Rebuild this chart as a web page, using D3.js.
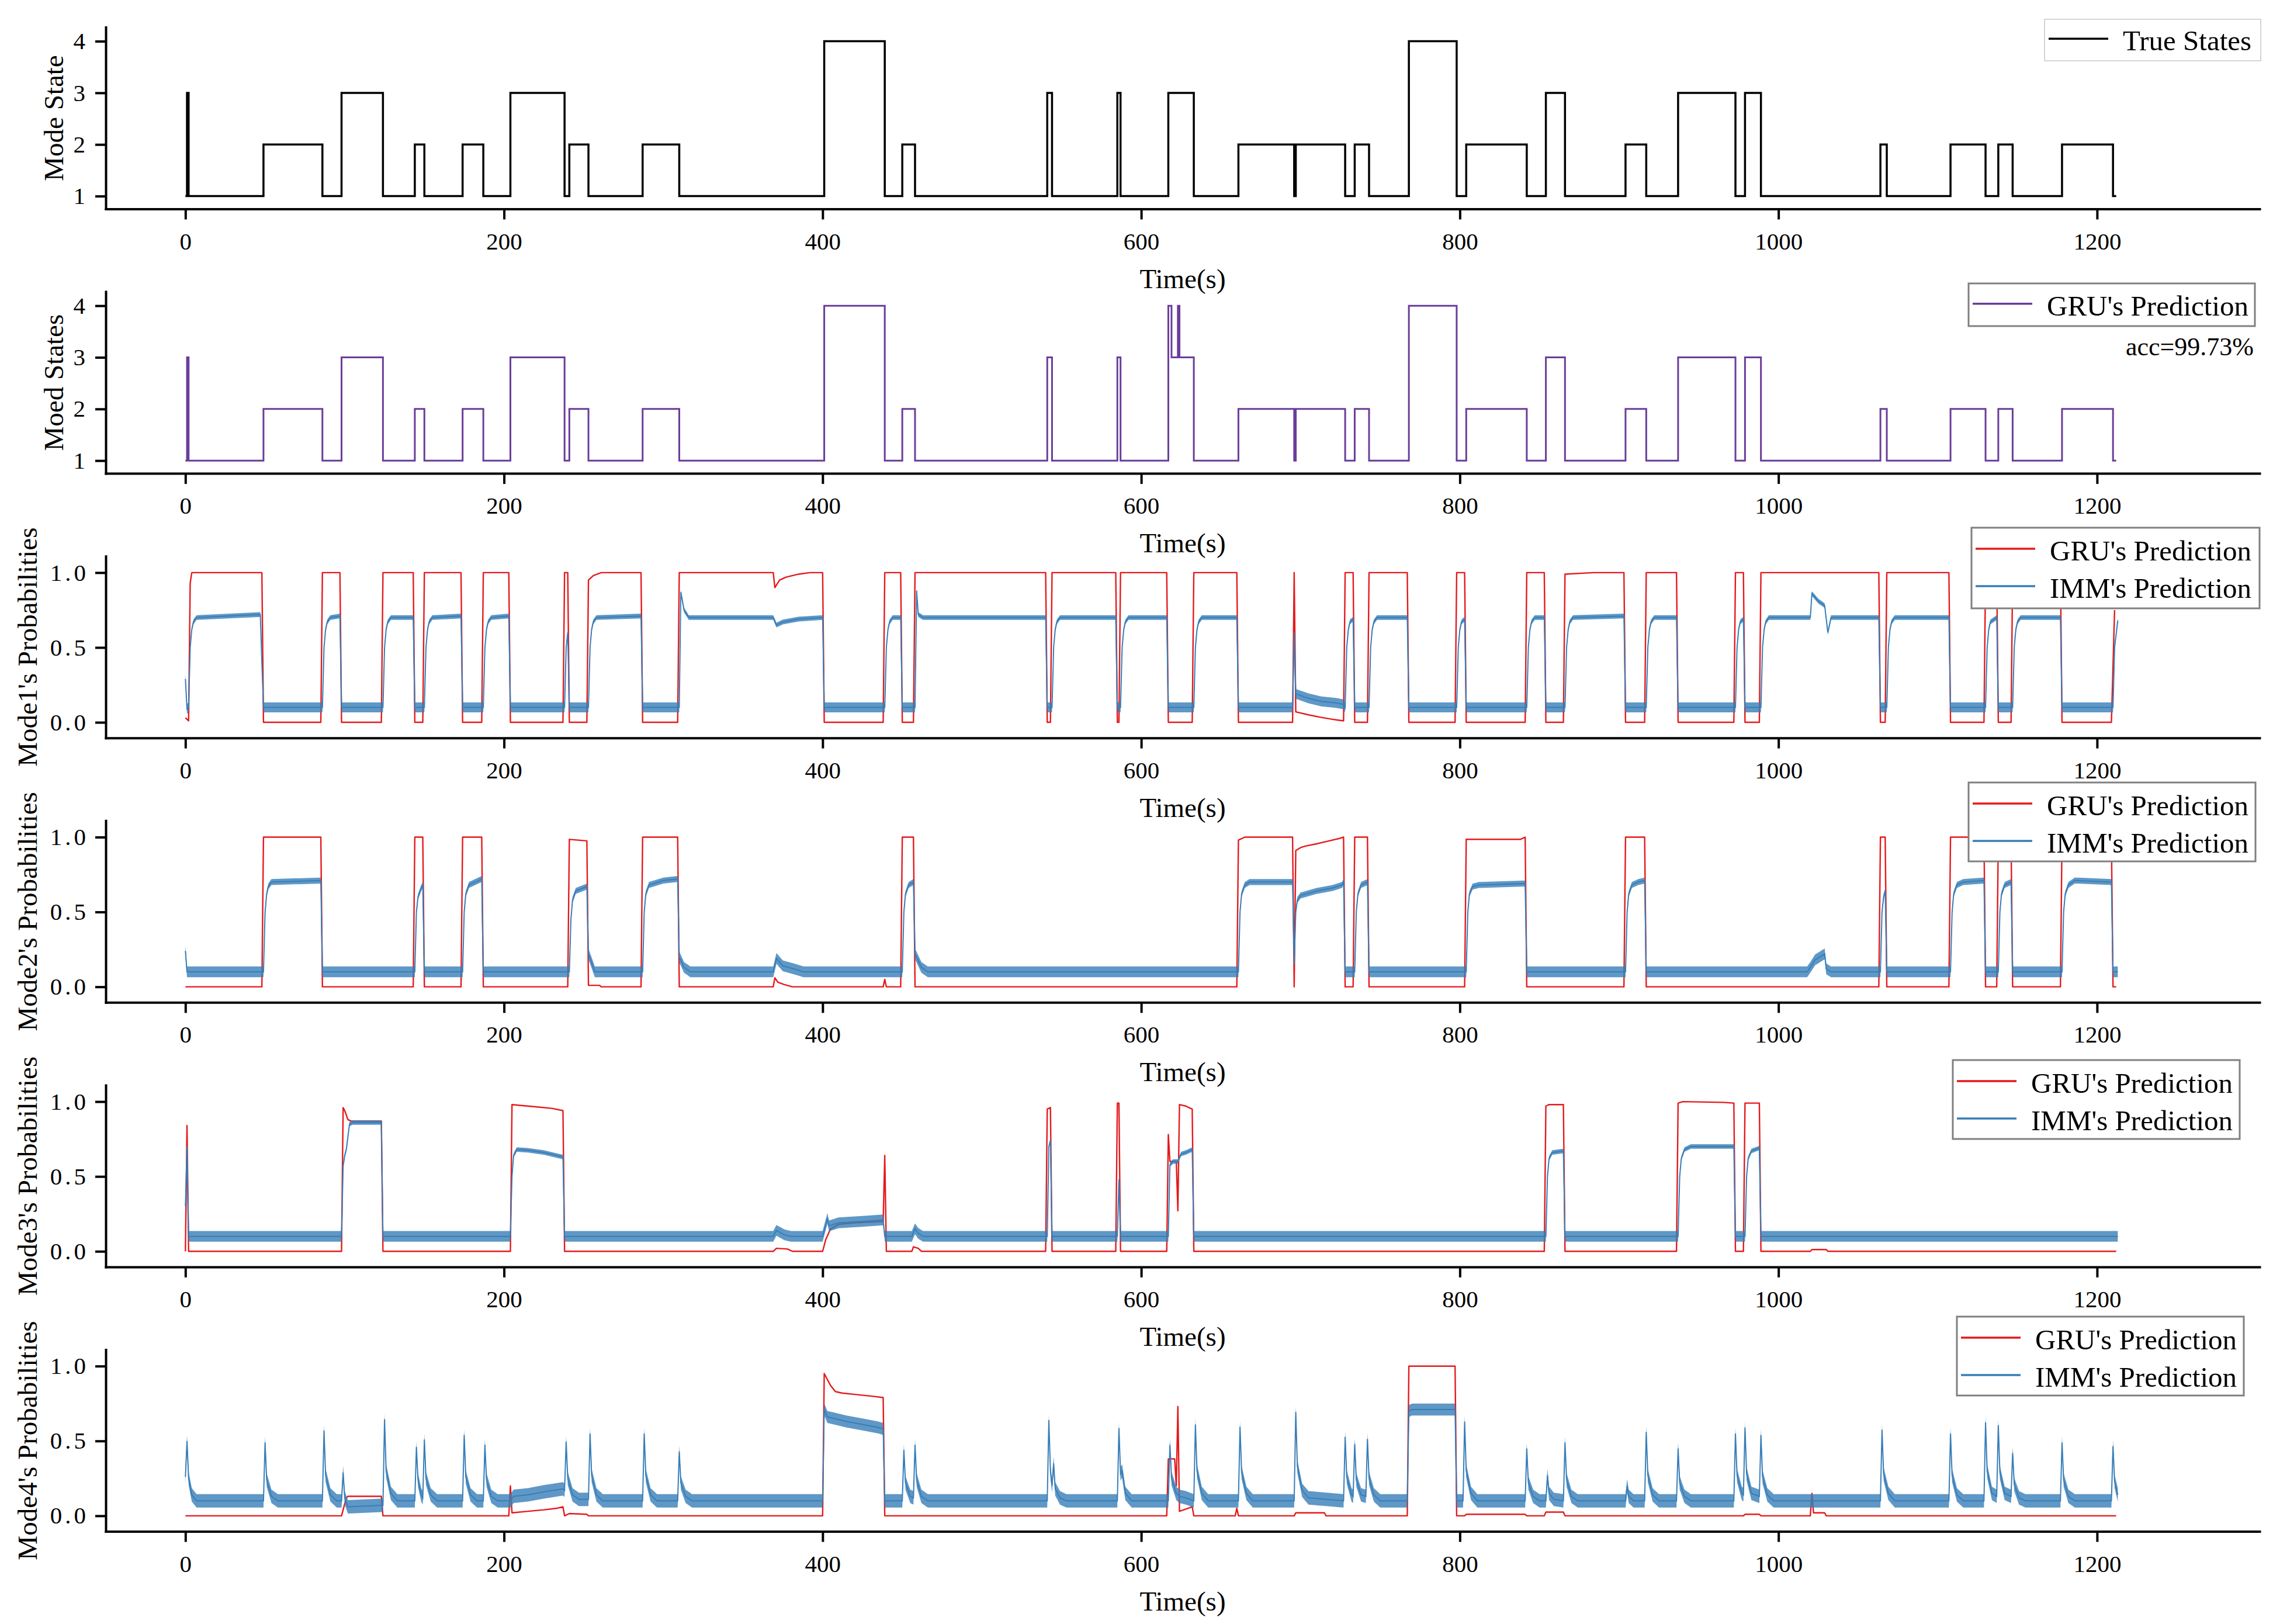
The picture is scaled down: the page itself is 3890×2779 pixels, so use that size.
<!DOCTYPE html>
<html>
<head>
<meta charset="utf-8">
<script src="https://cdn.jsdelivr.net/npm/d3@7"></script>
<style>
  body { margin: 0; background: #fff; }
  text { font-family: "Liberation Serif", "Times New Roman", serif; fill: #000; }
  .axis path.domain { stroke: #000; stroke-width: 4; stroke-linecap: square; }
  .axis .tick line { stroke: #000; stroke-width: 4; }
  .axis text { font-size: 41px; font-family: "Liberation Serif", "Times New Roman", serif; }
  .prob-axis text { letter-spacing: 5px; }
</style>
</head>
<body>
<svg id="chart" width="3890" height="2779"></svg>
<script>
/**
 * Mode states and mode probabilities of the GRU and IMM estimators,
 * six stacked panels sharing one time axis.
 */

var timeTicks = [0, 200, 400, 600, 800, 1000, 1200];
var stateTicks = [1, 2, 3, 4];
var probTicks = [0, 0.5, 1];

var yLabels = ['Mode State', 'Moed States', "Mode1's Probabilities",
  "Mode2's Probabilities", "Mode3's Probabilities", "Mode4's Probabilities"];
var accText = 'acc=99.73%';

// state change points [t, state]
var trueStates = [
  [0, 1], [1, 3], [2, 1], [49, 2], [86, 1], [98, 3], [124, 1], [144, 2], [150, 1],
  [174, 2], [187, 1], [204, 3], [238, 1], [241, 2], [253, 1], [287, 2], [310, 1],
  [401, 4], [439, 1], [450, 2], [458, 1], [541, 3], [544, 1], [585, 3], [587, 1],
  [617, 3], [633, 1], [661, 2], [696, 1], [697, 2], [728, 1], [734, 2], [743, 1],
  [768, 4], [798, 1], [804, 2], [842, 1], [854, 3], [866, 1], [904, 2], [917, 1],
  [937, 3], [973, 1], [979, 3], [989, 1], [1064, 2], [1068, 1], [1108, 2], [1130, 1],
  [1138, 2], [1147, 1], [1178, 2], [1210, 1], [1212, 1]
];

var gruStates = [
  [0, 1], [1, 3], [2, 1], [49, 2], [86, 1], [98, 3], [124, 1], [144, 2], [150, 1],
  [174, 2], [187, 1], [204, 3], [238, 1], [241, 2], [253, 1], [287, 2], [310, 1],
  [401, 4], [439, 1], [450, 2], [458, 1], [541, 3], [544, 1], [585, 3], [587, 1],
  [617, 4], [619, 3], [623, 4], [624, 3], [633, 1], [661, 2], [696, 1], [697, 2],
  [728, 1], [734, 2], [743, 1], [768, 4], [798, 1], [804, 2], [842, 1], [854, 3],
  [866, 1], [904, 2], [917, 1], [937, 3], [973, 1], [979, 3], [989, 1], [1064, 2],
  [1068, 1], [1108, 2], [1130, 1], [1138, 2], [1147, 1], [1178, 2], [1210, 1], [1212, 1]
];

var gruMode1 = [
  [0, 0.03], [2, 0.01], [3, 0.93], [4, 1], [48, 1], [49, 0],
  [85, 0], [86, 1], [97, 1], [98, 0], [123, 0], [124, 1], [143, 1], [144, 0],
  [149, 0], [150, 1], [173, 1], [174, 0], [186, 0], [187, 1], [203, 1], [204, 0],
  [237, 0], [238, 1], [240, 1], [241, 0],
  [252, 0], [253, 0.95], [256, 0.98], [261, 1], [286, 1], [287, 0],
  [309, 0], [310, 1], [369, 1], [370, 0.9], [373, 0.95], [377, 0.97], [385, 0.99],
  [392, 1], [400, 1], [401, 0],
  [438, 0], [439, 1], [449, 1], [450, 0], [457, 0], [458, 1], [540, 1], [541, 0],
  [543, 0], [544, 1], [584, 1], [585, 0], [586, 0], [587, 1], [616, 1], [617, 0],
  [632, 0], [633, 1], [660, 1], [661, 0],
  [695, 0], [696, 1], [697, 0.07], [705, 0.05], [712, 0.035], [720, 0.02], [727, 0.01],
  [728, 1], [733, 1], [734, 0], [742, 0], [743, 1], [767, 1], [768, 0],
  [797, 0], [798, 1], [803, 1], [804, 0], [841, 0], [842, 1], [853, 1], [854, 0],
  [865, 0], [866, 0.99], [884, 1], [903, 1], [904, 0], [916, 0], [917, 1], [936, 1], [937, 0],
  [972, 0], [973, 1], [978, 1], [979, 0], [988, 0], [989, 1], [1063, 1], [1064, 0],
  [1067, 0], [1068, 1], [1107, 1], [1108, 0], [1129, 0], [1130, 1], [1137, 1], [1138, 0],
  [1146, 0], [1147, 1], [1177, 1], [1178, 0], [1209, 0], [1211, 0.75]
];

var immMode1 = [
  [0, 0.29], [1, 0.09], [2, 0.1], [3, 0.5], [4, 0.62], [5, 0.67], [7, 0.7], [47, 0.72], [48, 0.4], [49, 0.1],
  [86, 0.1], [87, 0.5], [88, 0.62], [89, 0.67], [91, 0.7], [97, 0.71], [98, 0.1],
  [124, 0.1], [125, 0.5], [126, 0.62], [127, 0.67], [129, 0.7], [143, 0.7], [144, 0.1],
  [150, 0.1], [151, 0.5], [152, 0.62], [153, 0.67], [155, 0.7], [173, 0.71], [174, 0.1],
  [187, 0.1], [188, 0.5], [189, 0.62], [190, 0.67], [192, 0.7], [203, 0.71], [204, 0.1],
  [238, 0.1], [239, 0.5], [240, 0.6], [241, 0.1],
  [253, 0.1], [254, 0.5], [255, 0.62], [256, 0.67], [258, 0.7], [286, 0.71], [287, 0.1],
  [310, 0.1], [311, 0.87], [313, 0.75], [316, 0.7], [369, 0.7], [371, 0.65], [375, 0.67],
  [385, 0.69], [400, 0.7], [401, 0.1],
  [439, 0.1], [440, 0.5], [441, 0.62], [442, 0.67], [444, 0.7], [449, 0.7], [450, 0.1],
  [458, 0.1], [459, 0.88], [460, 0.72], [463, 0.7], [540, 0.7], [541, 0.1],
  [544, 0.1], [545, 0.5], [546, 0.62], [547, 0.67], [549, 0.7], [584, 0.7], [585, 0.1],
  [587, 0.1], [588, 0.5], [589, 0.62], [590, 0.67], [592, 0.7], [616, 0.7], [617, 0.1],
  [633, 0.1], [634, 0.5], [635, 0.62], [636, 0.67], [638, 0.7], [660, 0.7], [661, 0.1],
  [695, 0.1], [696, 0.6], [697, 0.19], [705, 0.16], [713, 0.14], [722, 0.13], [727, 0.12],
  [728, 0.1], [729, 0.5], [730, 0.62], [731, 0.67], [733, 0.69], [734, 0.1],
  [743, 0.1], [744, 0.5], [745, 0.62], [746, 0.67], [748, 0.7], [767, 0.7], [768, 0.1],
  [798, 0.1], [799, 0.5], [800, 0.62], [801, 0.67], [803, 0.69], [804, 0.1],
  [842, 0.1], [843, 0.5], [844, 0.62], [845, 0.67], [847, 0.7], [853, 0.7], [854, 0.1],
  [866, 0.1], [867, 0.5], [868, 0.62], [869, 0.67], [871, 0.7], [903, 0.71], [904, 0.1],
  [917, 0.1], [918, 0.5], [919, 0.62], [920, 0.67], [922, 0.7], [936, 0.7], [937, 0.1],
  [973, 0.1], [974, 0.5], [975, 0.62], [976, 0.67], [978, 0.69], [979, 0.1],
  [989, 0.1], [990, 0.5], [991, 0.62], [992, 0.67], [994, 0.7], [1020, 0.7], [1021, 0.86],
  [1025, 0.81], [1029, 0.78], [1031, 0.6], [1033, 0.7], [1063, 0.7], [1064, 0.1],
  [1068, 0.1], [1069, 0.5], [1070, 0.62], [1071, 0.67], [1073, 0.7], [1107, 0.7], [1108, 0.1],
  [1130, 0.1], [1131, 0.5], [1132, 0.62], [1133, 0.67], [1137, 0.7], [1138, 0.1],
  [1147, 0.1], [1148, 0.5], [1149, 0.62], [1150, 0.67], [1152, 0.7], [1177, 0.7], [1178, 0.1],
  [1210, 0.1], [1211, 0.5], [1213, 0.68]
];

var gruMode2 = [
  [0, 0], [48, 0], [49, 1], [85, 1], [86, 0],
  [143, 0], [144, 1], [149, 1], [150, 0], [173, 0], [174, 1], [186, 1], [187, 0],
  [240, 0], [241, 0.985], [252, 0.975], [253, 0.01], [260, 0.01], [261, 0],
  [286, 0], [287, 1], [309, 1], [310, 0],
  [369, 0], [370, 0.06], [372, 0.03], [376, 0.015], [381, 0],
  [438, 0], [439, 0.05], [440, 0], [449, 0], [450, 1], [457, 1], [458, 0],
  [660, 0], [661, 0.98], [665, 1], [695, 1], [696, 0], [697, 0.91], [700, 0.93],
  [703, 0.94], [710, 0.955], [716, 0.97], [724, 0.99], [727, 1], [728, 0],
  [733, 0], [734, 1], [742, 1], [743, 0],
  [803, 0], [804, 0.985], [838, 0.985], [841, 1], [842, 0],
  [903, 0], [904, 1], [916, 1], [917, 0], [1063, 0], [1064, 1], [1067, 1], [1068, 0],
  [1107, 0], [1108, 1], [1129, 1], [1130, 0], [1137, 0], [1138, 1], [1146, 1], [1147, 0],
  [1177, 0], [1178, 1], [1209, 1], [1210, 0], [1212, 0]
];

var immMode2 = [
  [0, 0.24], [1, 0.1], [49, 0.1], [50, 0.5], [51, 0.62], [52, 0.67], [54, 0.7], [85, 0.71], [86, 0.1],
  [144, 0.1], [145, 0.5], [146, 0.6], [148, 0.66], [149, 0.68], [150, 0.1],
  [174, 0.1], [175, 0.5], [176, 0.62], [178, 0.68], [186, 0.72], [187, 0.1],
  [241, 0.1], [242, 0.45], [243, 0.58], [245, 0.64], [252, 0.67], [253, 0.22], [257, 0.1],
  [287, 0.1], [288, 0.5], [289, 0.62], [291, 0.68], [300, 0.71], [309, 0.72], [310, 0.2],
  [313, 0.13], [317, 0.1],
  [369, 0.1], [371, 0.19], [375, 0.14], [382, 0.12], [388, 0.1],
  [450, 0.1], [451, 0.5], [452, 0.62], [454, 0.68], [457, 0.7], [458, 0.22], [462, 0.13], [466, 0.1],
  [661, 0.1], [662, 0.5], [663, 0.62], [665, 0.68], [668, 0.7], [695, 0.7], [696, 0.15],
  [697, 0.5], [698, 0.58], [700, 0.61], [710, 0.64], [720, 0.66], [726, 0.68], [727, 0.7], [728, 0.1],
  [734, 0.1], [735, 0.5], [736, 0.62], [738, 0.68], [742, 0.7], [743, 0.1],
  [804, 0.1], [805, 0.5], [806, 0.62], [808, 0.67], [812, 0.68], [841, 0.69], [842, 0.1],
  [904, 0.1], [905, 0.5], [906, 0.62], [908, 0.68], [912, 0.7], [916, 0.71], [917, 0.1],
  [1018, 0.1], [1020, 0.13], [1023, 0.18], [1026, 0.2], [1029, 0.22], [1030, 0.12], [1033, 0.1],
  [1064, 0.1], [1065, 0.5], [1066, 0.6], [1067, 0.64], [1068, 0.1],
  [1108, 0.1], [1109, 0.5], [1110, 0.62], [1112, 0.68], [1116, 0.7], [1129, 0.71], [1130, 0.1],
  [1138, 0.1], [1139, 0.5], [1140, 0.62], [1142, 0.68], [1146, 0.7], [1147, 0.1],
  [1178, 0.1], [1179, 0.5], [1180, 0.62], [1182, 0.68], [1186, 0.71], [1209, 0.7], [1210, 0.1],
  [1213, 0.1]
];

var gruMode3 = [
  [0, 0], [1, 0.84], [2, 0],
  [98, 0], [99, 0.96], [100, 0.94], [102, 0.88], [104, 0.87], [123, 0.87], [124, 0],
  [204, 0], [205, 0.98], [210, 0.975], [220, 0.965], [230, 0.955], [237, 0.94], [238, 0],
  [369, 0], [371, 0.02], [378, 0.015], [381, 0],
  [400, 0], [402, 0.08], [405, 0.15], [410, 0.18], [420, 0.19], [438, 0.2], [439, 0.64], [440, 0],
  [456, 0], [457, 0.03], [460, 0.02], [462, 0],
  [540, 0], [541, 0.95], [543, 0.96], [544, 0], [584, 0], [585, 0.99], [586, 0.99], [587, 0],
  [616, 0], [617, 0.78], [618, 0.6], [622, 0.6], [623, 0.27], [624, 0.98], [628, 0.97],
  [632, 0.95], [633, 0],
  [853, 0], [854, 0.97], [856, 0.98], [865, 0.98], [866, 0],
  [936, 0], [937, 0.99], [940, 1], [965, 0.995], [972, 0.99], [973, 0],
  [978, 0], [979, 0.99], [988, 0.99], [989, 0],
  [1020, 0], [1021, 0.012], [1030, 0.012], [1031, 0], [1212, 0]
];

var immMode3 = [
  [0, 0.3], [1, 0.7], [2, 0.1],
  [98, 0.1], [99, 0.57], [100, 0.64], [101, 0.68], [103, 0.85], [105, 0.86], [123, 0.86], [124, 0.1],
  [204, 0.1], [205, 0.5], [206, 0.64], [208, 0.68], [215, 0.675], [225, 0.66], [233, 0.64],
  [237, 0.63], [238, 0.1],
  [369, 0.1], [371, 0.14], [376, 0.11], [380, 0.1],
  [400, 0.1], [401, 0.14], [403, 0.22], [404, 0.17], [410, 0.19], [425, 0.2], [438, 0.21], [439, 0.1],
  [456, 0.1], [458, 0.15], [460, 0.12], [463, 0.1],
  [541, 0.1], [542, 0.7], [543, 0.74], [544, 0.1], [585, 0.1], [586, 0.48], [587, 0.1],
  [617, 0.1], [618, 0.58], [620, 0.6], [623, 0.6], [625, 0.65], [628, 0.66], [632, 0.68], [633, 0.1],
  [854, 0.1], [855, 0.5], [856, 0.62], [858, 0.66], [865, 0.67], [866, 0.1],
  [937, 0.1], [938, 0.5], [939, 0.62], [941, 0.68], [945, 0.7], [972, 0.7], [973, 0.1],
  [979, 0.1], [980, 0.5], [981, 0.62], [983, 0.67], [988, 0.69], [989, 0.1],
  [1213, 0.1]
];

var gruMode4 = [
  [0, 0], [98, 0], [99, 0.04], [101, 0.12], [102, 0.13], [123, 0.13], [124, 0],
  [203, 0], [204, 0.2], [205, 0.02], [215, 0.03], [225, 0.04], [233, 0.05], [237, 0.06],
  [238, 0], [241, 0.015], [252, 0.01], [253, 0],
  [400, 0], [401, 0.95], [403, 0.91], [405, 0.87], [408, 0.83], [412, 0.82], [421, 0.81],
  [430, 0.8], [438, 0.79], [439, 0],
  [616, 0], [617, 0.38], [621, 0.38], [622, 0.2], [623, 0.73], [624, 0.03], [632, 0.06], [633, 0],
  [659, 0], [660, 0.05], [661, 0], [696, 0], [697, 0.02], [715, 0.02], [716, 0],
  [767, 0], [768, 1], [797, 1], [798, 0], [803, 0], [804, 0.01], [841, 0.01], [842, 0],
  [853, 0], [854, 0.025], [865, 0.025], [866, 0], [978, 0], [979, 0.01], [988, 0.01], [989, 0],
  [1020, 0], [1021, 0.15], [1022, 0.02], [1029, 0.02], [1030, 0], [1212, 0]
];

var immMode4 = [
  [0, 0.26], [1, 0.5], [2, 0.25], [4, 0.14], [7, 0.1],
  [49, 0.1], [50, 0.49], [51, 0.24], [54, 0.13], [58, 0.1],
  [86, 0.1], [87, 0.57], [88, 0.27], [91, 0.14], [95, 0.1],
  [98, 0.1], [99, 0.29], [100, 0.12], [102, 0.06], [123, 0.07],
  [124, 0.07], [125, 0.645], [126, 0.3], [129, 0.15], [133, 0.1],
  [144, 0.1], [145, 0.46], [146, 0.24], [148, 0.14],
  [149, 0.12], [150, 0.51], [151, 0.25], [154, 0.14], [158, 0.1],
  [174, 0.1], [175, 0.54], [176, 0.26], [179, 0.14], [183, 0.1],
  [187, 0.1], [188, 0.475], [189, 0.24], [192, 0.13], [196, 0.1],
  [204, 0.1], [206, 0.13], [215, 0.14], [225, 0.16], [237, 0.18],
  [238, 0.17], [239, 0.495], [240, 0.25], [243, 0.14], [247, 0.11],
  [253, 0.11], [254, 0.55], [255, 0.27], [258, 0.14], [262, 0.1],
  [287, 0.1], [288, 0.55], [289, 0.27], [292, 0.14], [296, 0.1],
  [309, 0.1], [310, 0.43], [311, 0.22], [314, 0.13], [318, 0.1],
  [400, 0.1], [401, 0.71], [403, 0.66], [407, 0.65], [415, 0.63], [425, 0.61], [435, 0.59],
  [438, 0.58], [439, 0.1],
  [450, 0.1], [451, 0.44], [452, 0.22], [455, 0.13],
  [457, 0.12], [458, 0.475], [459, 0.24], [462, 0.13], [466, 0.1],
  [541, 0.1], [542, 0.64], [543, 0.3], [544, 0.2], [545, 0.35], [546, 0.18], [549, 0.12], [553, 0.1],
  [585, 0.1], [586, 0.586], [587, 0.28], [588, 0.3], [590, 0.15], [594, 0.1],
  [617, 0.1], [618, 0.475], [619, 0.25], [622, 0.15], [624, 0.13], [628, 0.12],
  [633, 0.1], [634, 0.61], [635, 0.3], [638, 0.15], [642, 0.1],
  [661, 0.1], [662, 0.595], [663, 0.29], [666, 0.15], [670, 0.1],
  [696, 0.1], [697, 0.694], [698, 0.33], [701, 0.17], [705, 0.12],
  [727, 0.1], [728, 0.527], [729, 0.26], [732, 0.14],
  [733, 0.13], [734, 0.48], [735, 0.24], [738, 0.14],
  [741, 0.13], [742, 0.514], [743, 0.25], [746, 0.14], [750, 0.1],
  [767, 0.1], [768, 0.7], [770, 0.71], [797, 0.71], [798, 0.1],
  [802, 0.1], [803, 0.63], [804, 0.3], [807, 0.15], [811, 0.1],
  [841, 0.1], [842, 0.45], [843, 0.22], [846, 0.13], [850, 0.1],
  [854, 0.1], [855, 0.27], [856, 0.15], [859, 0.11],
  [865, 0.1], [866, 0.49], [867, 0.24], [870, 0.13], [874, 0.1],
  [904, 0.1], [905, 0.2], [906, 0.13], [909, 0.1],
  [916, 0.1], [917, 0.56], [918, 0.27], [921, 0.14], [925, 0.1],
  [936, 0.1], [937, 0.45], [938, 0.22], [941, 0.13], [945, 0.1],
  [972, 0.1], [973, 0.55], [974, 0.27], [977, 0.15],
  [978, 0.14], [979, 0.59], [980, 0.28], [983, 0.15],
  [988, 0.13], [989, 0.54], [990, 0.26], [993, 0.14], [997, 0.1],
  [1064, 0.1], [1065, 0.575], [1066, 0.28], [1069, 0.15], [1073, 0.1],
  [1107, 0.1], [1108, 0.55], [1109, 0.27], [1112, 0.14], [1116, 0.1],
  [1129, 0.1], [1130, 0.625], [1131, 0.3], [1134, 0.15],
  [1137, 0.13], [1138, 0.605], [1139, 0.29], [1142, 0.15],
  [1146, 0.13], [1147, 0.42], [1148, 0.21], [1151, 0.12], [1155, 0.1],
  [1177, 0.1], [1178, 0.49], [1179, 0.24], [1182, 0.13], [1186, 0.1],
  [1209, 0.1], [1210, 0.466], [1211, 0.23], [1213, 0.14]
];

// half-width of the IMM jitter band (low level, high level)
var immSpreadLow = [0.033, 0.036, 0.036, 0.045];
var immSpreadHigh = [0.016, 0.02, 0.015, 0.04];

var gruSeries = [gruMode1, gruMode2, gruMode3, gruMode4];
var immSeries = [immMode1, immMode2, immMode3, immMode4];

var colors = {truth: '#000000', gruState: '#6a3d9a', gru: '#e41a1c', imm: '#377eb8'};

// legend frames [x, y, width, height], one per panel
var legendBoxes = [
  [3499, 33, 370, 71], [3369, 485, 490, 73], [3374, 903, 493, 138],
  [3369, 1339, 491, 135], [3342, 1814, 491, 135], [3349, 2253, 491, 135]
];

var svg = d3.select('#chart');

var x = d3.scaleLinear().domain([-50, 1302]).range([181, 3867]);

var panelTop0 = 46.5,
  panelStep = 452.6,
  panelHeight = 311;

/**
 * Draws the spines, ticks and labels of one panel and returns its y scale.
 */
function drawPanelFrame(i, isProb) {
  var top = panelTop0 + panelStep * i,
    bottom = top + panelHeight;

  var y = d3.scaleLinear()
    .domain(isProb ? [-0.104, 1.11] : [0.752, 4.272])
    .range([bottom, top]);

  var g = svg.append('g').attr('class', 'panel panel-' + i);

  g.append('g')
    .attr('class', 'axis')
    .attr('transform', 'translate(0,' + bottom + ')')
    .call(d3.axisBottom(x).tickValues(timeTicks).tickFormat(d3.format('d'))
      .tickSize(18).tickSizeOuter(0).tickPadding(22));

  var yAxis = d3.axisLeft(y).tickSize(18).tickSizeOuter(0);
  if (isProb) {
    yAxis.tickValues(probTicks).tickFormat(d3.format('.1f')).tickPadding(11);
  } else {
    yAxis.tickValues(stateTicks).tickFormat(d3.format('d')).tickPadding(17);
  }

  g.append('g')
    .attr('class', 'axis' + (isProb ? ' prob-axis' : ''))
    .attr('transform', 'translate(181,0)')
    .call(yAxis);

  g.append('text')
    .attr('x', 2024)
    .attr('y', bottom + 135)
    .attr('text-anchor', 'middle')
    .style('font-size', '47px')
    .text('Time(s)');

  var labelX = isProb ? 63 : 108;
  g.append('text')
    .attr('transform', 'translate(' + labelX + ',' + (top + panelHeight / 2) + ') rotate(-90)')
    .attr('text-anchor', 'middle')
    .style('font-size', '47px')
    .text(yLabels[i]);

  return {g: g, y: y};
}

/**
 * Legend frame with one row per entry: a short line handle and its label.
 */
function drawLegend(g, box, entries, frameStyle) {
  var lg = g.append('g').attr('class', 'legend');

  lg.append('rect')
    .attr('x', box[0]).attr('y', box[1])
    .attr('width', box[2]).attr('height', box[3])
    .attr('fill', '#fff')
    .attr('stroke', frameStyle.color)
    .attr('stroke-width', frameStyle.width);

  entries.forEach(function(e, k) {
    var base = box[1] + (entries.length === 1 ? box[3] * 0.75 : 56 + 64 * k);
    lg.append('line')
      .attr('x1', box[0] + 7).attr('x2', box[0] + 109)
      .attr('y1', base - 20).attr('y2', base - 20)
      .attr('stroke', e.color)
      .attr('stroke-width', 3.5);
    lg.append('text')
      .attr('x', box[0] + 134)
      .attr('y', base)
      .style('font-size', '49px')
      .text(e.label);
  });
}

// Panels 1 and 2: mode states
[trueStates, gruStates].forEach(function(series, i) {
  var p = drawPanelFrame(i, false);
  var stateLine = d3.line()
    .curve(d3.curveStepAfter)
    .x(function(d) { return x(d[0]); })
    .y(function(d) { return p.y(d[1]); });

  p.g.append('path')
    .datum(series)
    .attr('fill', 'none')
    .attr('stroke', i === 0 ? colors.truth : colors.gruState)
    .attr('stroke-width', i === 0 ? 3.5 : 3)
    .attr('d', stateLine);

  if (i === 0) {
    drawLegend(p.g, legendBoxes[0], [{label: 'True States', color: colors.truth}],
      {color: '#c8c8c8', width: 1.5});
  } else {
    drawLegend(p.g, legendBoxes[1], [{label: "GRU's Prediction", color: colors.gruState}],
      {color: '#808080', width: 3});
    p.g.append('text')
      .attr('x', 3857)
      .attr('y', 608)
      .attr('text-anchor', 'end')
      .style('font-size', '44px')
      .text(accText);
  }
});

// Panels 3 to 6: mode probabilities
gruSeries.forEach(function(gru, m) {
  var i = m + 2;
  var p = drawPanelFrame(i, true);
  var y = p.y;

  var probLine = d3.line()
    .x(function(d) { return x(d[0]); })
    .y(function(d) { return y(d[1]); });

  var spread = function(v) {
    return v < 0.4 ? immSpreadLow[m] : immSpreadHigh[m];
  };

  var band = d3.area()
    .x(function(d) { return x(d[0]); })
    .y0(function(d) { return y(d[1] - spread(d[1])); })
    .y1(function(d) { return y(d[1] + spread(d[1])); });

  p.g.append('path')
    .datum(gru)
    .attr('fill', 'none')
    .attr('stroke', colors.gru)
    .attr('stroke-width', 2.4)
    .attr('stroke-linejoin', 'round')
    .attr('d', probLine);

  p.g.append('path')
    .datum(immSeries[m])
    .attr('fill', colors.imm)
    .attr('fill-opacity', 0.8)
    .attr('d', band);

  p.g.append('path')
    .datum(immSeries[m])
    .attr('fill', 'none')
    .attr('stroke', colors.imm)
    .attr('stroke-width', 2)
    .attr('d', probLine);

  drawLegend(p.g, legendBoxes[i], [
    {label: "GRU's Prediction", color: colors.gru},
    {label: "IMM's Prediction", color: colors.imm}
  ], {color: '#808080', width: 3});
});
</script>
</body>
</html>
